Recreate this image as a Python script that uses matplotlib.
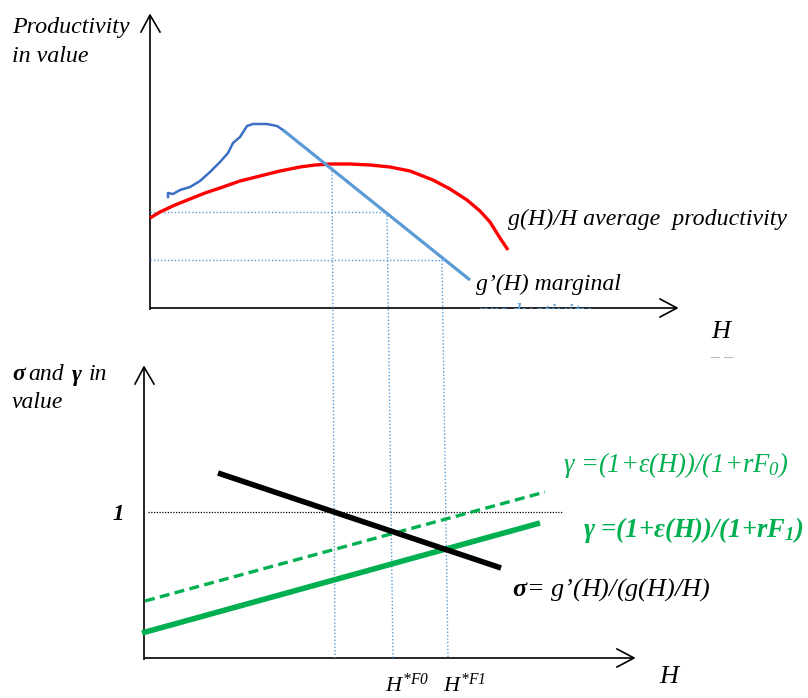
import matplotlib
matplotlib.use("Agg")
import matplotlib.pyplot as plt
import matplotlib.transforms as mtransforms

plt.rcParams['mathtext.fontset'] = 'custom'
plt.rcParams['mathtext.rm'] = 'Liberation Serif:italic'
plt.rcParams['mathtext.it'] = 'Liberation Serif:italic'
plt.rcParams['mathtext.bf'] = 'Liberation Serif:bold:italic'
plt.rcParams['font.family'] = ['Liberation Serif', 'DejaVu Serif']

# ---------------- data (diagram units) ----------------
# top panel
avg_x = [150, 160, 175, 190, 205, 220, 240, 260, 280, 300, 315, 330, 350, 370, 390,
         410, 433, 450, 467, 480, 490, 500, 508]
avg_y = [218, 212, 205, 199, 193, 188, 181, 176, 171, 167, 165, 164, 164, 165, 167,
         171, 180, 189, 200, 211, 222, 238, 250]
mpk_wiggle_x = [168, 168, 173, 180, 190, 200, 210, 220, 228, 233, 240, 247, 253, 267, 277, 283]
mpk_wiggle_y = [197, 193, 194, 190, 187, 181, 172, 162, 153, 143, 137, 126, 124, 124, 126, 130]
mpk_line_x = [283, 470]
mpk_line_y = [130, 280]
# equilibrium guides (top y, bottom x)
guide_top_x = [332, 387, 442]
guide_top_y = [164, 212, 260]
guide_bot_x = [335, 393, 448]
# bottom panel
sigma_x = [218, 501]
sigma_y = [473, 568]
gamma0_x = [145, 545]
gamma0_y = [601, 492]
gamma1_x = [142, 540]
gamma1_y = [633, 523]
one_level = 512

# axes geometry
top_origin = (150, 308)
top_ytip = 15
top_xtip = 677
bot_origin = (144, 658)
bot_ytip = 367
bot_xtip = 634

fig = plt.figure(figsize=(8.08, 6.98), dpi=100)
ax = fig.add_axes([0, 0, 1, 1])
ax.set_xlim(0, 808)
ax.set_ylim(698, 0)
ax.axis('off')

axis_kw = dict(color='black', lw=1.2, solid_capstyle='butt')

def arrow_axes(origin, ytip, xtip):
    ox, oy = origin
    ax.plot([ox, ox], [oy + 2, ytip], **axis_kw)
    ax.plot([ox, xtip], [oy, oy], **axis_kw)
    ax.plot([ox - 9, ox, ox + 10], [ytip + 17, ytip, ytip + 17], color='black', lw=1.2)
    ax.plot([xtip - 17, xtip, xtip - 17], [oy - 9, oy, oy + 9], color='black', lw=1.2)

arrow_axes(top_origin, top_ytip, top_xtip)
arrow_axes(bot_origin, bot_ytip, bot_xtip)

guide_col = '#5b9bd5'
for gx, gy in zip(guide_top_x[1:], guide_top_y[1:]):
    ax.plot([top_origin[0], gx], [gy, gy], color=guide_col, lw=1.0, ls=(0, (1, 1.5)))
for tx, ty, bx in zip(guide_top_x, guide_top_y, guide_bot_x):
    ax.plot([tx, bx], [ty, bot_origin[1]], color=guide_col, lw=1.0, ls=(0, (1, 1.5)))

# curves top
ax.plot(avg_x, avg_y, color='#ff0000', lw=2.4, solid_capstyle='butt', solid_joinstyle='round')
ax.plot(mpk_wiggle_x, mpk_wiggle_y, color='#3c6fc4', lw=1.8, solid_joinstyle='round')
ax.plot(mpk_line_x, mpk_line_y, color='#5b9bd5', lw=2.3, solid_capstyle='butt')

# bottom panel
ax.plot([bot_origin[0] + 4, 562], [one_level, one_level], color='black', lw=0.9, ls=(0, (1, 1.2)))
ax.plot(gamma0_x, gamma0_y, color='#00b050', lw=2.4, dashes=(3, 1.6))
ax.plot(gamma1_x, gamma1_y, color='#00b050', lw=4.0, solid_capstyle='butt')
ax.plot(sigma_x, sigma_y, color='black', lw=4.0, solid_capstyle='butt')

# ghost marks under top H
ax.plot([711, 719], [357, 357], color='#bbbbbb', lw=0.8)
ax.plot([724, 732], [357, 357], color='#bbbbbb', lw=0.8)

# ---------------- texts ----------------
it = dict(family=['Liberation Serif', 'DejaVu Serif'], style='italic')
ax.text(12, 28, 'Productivity', fontsize=17.3, va='center', ha='left', **it)
ax.text(12, 56, 'in value', fontsize=17.3, va='center', ha='left', **it)
ax.text(508, 219, 'g(H)/H average  productivity', fontsize=17.2, va='center', ha='left', **it)
ax.text(476, 284, 'g\u2019(H) marginal', fontsize=17.1, va='center', ha='left', **it)
ghost = ax.text(477, 314, 'productivity', fontsize=17.1, va='center', ha='left', color='#5b9bd5', **it)
clip = mtransforms.Bbox.from_extents(0, 698 - 309, 808, 698 - 290)
ghost.set_clip_box(mtransforms.TransformedBbox(mtransforms.Bbox.from_extents(0, 0, 1, 1),
                                               mtransforms.BboxTransformTo(clip)))
ghost.set_clip_on(True)
ax.text(721, 332, 'H', fontsize=19, va='center', ha='center', **it)

ax.text(12, 375, '\u03c3', fontsize=17, va='center', ha='left', weight='bold', **it)
ax.text(28, 375, 'and', fontsize=17, va='center', ha='left', **it)
ax.text(72, 375, '\u03b3', fontsize=17, va='center', ha='left', weight='bold', **it)
ax.text(89, 375, 'in', fontsize=17, va='center', ha='left', **it)
ax.text(12, 402, 'value', fontsize=17, va='center', ha='left', **it)

ax.text(118, 515, '1', fontsize=16.5, va='center', ha='center', weight='bold', **it)
ax.text(563, 465, '\u03b3 =(1+\u03b5(H))/(1+rF$_0$)', fontsize=19.2, va='center', ha='left',
        color='#00b050', **it)
ax.text(583, 530, '\u03b3 =(1+\u03b5(H))/(1+rF$_\\mathbf{1}$)', fontsize=19.2, va='center', ha='left',
        color='#00b050', weight='bold', **it)
ax.text(512, 590, '$\\mathbf{\\sigma}$= g\u2019(H)/(g(H)/H)', fontsize=18.9, va='center', ha='left', **it)

ax.text(385, 697, r'$H^{*F0}$', fontsize=16, va='bottom', ha='left', **it)
ax.text(443, 697, r'$H^{*F1}$', fontsize=16, va='bottom', ha='left', **it)
ax.text(669, 677, 'H', fontsize=19, va='center', ha='center', **it)

fig.savefig('out.png', dpi=100)
